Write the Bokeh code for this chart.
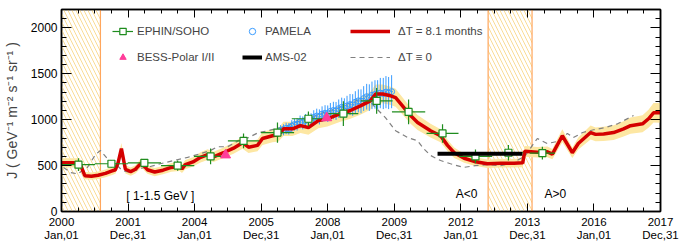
from bokeh.plotting import figure
from bokeh.models import (Range1d, LinearAxis, FixedTicker, BoxAnnotation, Span,
                          Legend, LegendItem, CustomJSTickFormatter)
from bokeh.core.properties import value
from bokeh.embed import file_html
from bokeh.resources import INLINE

FONT = "Liberation Sans"

# ---------------- data ----------------
red_year = [2000.00, 2000.55, 2000.70, 2000.90, 2001.10, 2001.32, 2001.50, 2001.62, 2001.70, 2001.80,
            2001.92, 2002.08, 2002.22, 2002.40, 2002.58, 2002.80, 2003.05, 2003.30, 2003.55, 2003.62,
            2003.72, 2003.95, 2004.18, 2004.39, 2004.57, 2004.87, 2005.17, 2005.44, 2005.62, 2005.89,
            2006.04, 2006.34, 2006.52, 2006.67, 2006.94, 2007.18, 2007.42, 2007.72, 2007.99, 2008.38,
            2008.68, 2008.98, 2009.28, 2009.44, 2009.65, 2009.89, 2010.04, 2010.19, 2010.49, 2010.70,
            2011.09, 2011.39, 2011.60, 2011.80, 2012.10, 2012.40, 2012.80, 2013.20, 2013.60, 2013.86,
            2013.92, 2014.30, 2014.60, 2014.75, 2015.05, 2015.35, 2015.53, 2015.90, 2016.05, 2016.29,
            2016.59, 2016.89, 2017.10, 2017.46, 2017.64, 2017.79, 2018.00]
red_val = [530, 530, 390, 385, 395, 415, 440, 455, 530, 685,
           460, 435, 460, 530, 455, 430, 450, 480, 490, 465,
           510, 540, 590, 620, 595, 640, 690, 750, 700, 720,
           795, 825, 835, 900, 900, 935, 915, 990, 1010, 1065,
           1100, 1150, 1205, 1280, 1280, 1260, 1240, 1175, 1045, 970,
           880, 825, 720, 640, 580, 545, 520, 525, 525, 530,
           655, 645, 650, 625, 825, 640, 740, 860, 840, 845,
           860, 900, 935, 955, 1010, 1075, 1075]
red_err = [50, 50, 40, 40, 40, 42, 44, 45, 50, 60,
           45, 45, 45, 50, 45, 45, 45, 48, 48, 46,
           50, 50, 55, 58, 55, 58, 62, 66, 62, 64,
           70, 72, 72, 78, 78, 80, 78, 84, 85, 88,
           90, 95, 98, 102, 102, 100, 98, 95, 88, 82,
           75, 70, 62, 56, 50, 48, 46, 46, 46, 47,
           58, 57, 58, 56, 72, 58, 66, 76, 76, 78,
           80, 84, 88, 92, 98, 106, 108]

dash_year = [2000.06, 2000.27, 2000.48, 2000.78, 2001.02, 2001.17, 2001.38, 2001.62, 2001.83, 2002.07,
             2002.37, 2002.67, 2002.97, 2003.37, 2003.79, 2004.18, 2004.48, 2004.69, 2004.99, 2005.32,
             2005.62, 2005.92, 2006.22, 2006.58, 2006.88, 2007.18, 2007.48, 2007.78, 2008.08, 2008.38,
             2008.68, 2008.98, 2009.28, 2009.74, 2010.04, 2010.40, 2010.70, 2010.88, 2011.09, 2011.39,
             2011.69, 2012.08, 2012.44, 2012.80, 2013.19, 2013.58, 2013.94, 2014.15, 2014.30, 2014.60,
             2014.99, 2015.20, 2015.38, 2015.66, 2015.99, 2016.35, 2016.71, 2017.19]
dash_val = [480, 425, 410, 480, 620, 665, 575, 520, 445, 425,
            470, 490, 520, 555, 590, 630, 665, 705, 705, 770,
            805, 860, 880, 915, 945, 990, 1020, 1065, 1100, 1140,
            1185, 1220, 1190, 1020, 880, 805, 770, 685, 610, 555,
            520, 480, 500, 510, 500, 530, 610, 720, 795, 740,
            770, 850, 805, 860, 890, 915, 955, 1045]

eph_year = [2000.51, 2001.50, 2002.49, 2003.49, 2004.48, 2005.47, 2006.49, 2007.42,
            2008.47, 2009.47, 2010.43, 2011.45, 2012.44, 2013.43, 2014.45]
eph_val = [510, 520, 530, 500, 600, 770, 860, 1010, 1065, 1205, 1085, 850, 600, 640, 635]
eph_xerr = [0.5, 0.5, 0.5, 0.5, 0.5, 0.47, 0.5, 0.5, 0.45, 0.48, 0.5, 0.48, 0.5, 0.45, 0.38]
eph_yerr = [70, 40, 40, 55, 85, 80, 110, 80, 135, 140, 135, 100, 75, 85, 70]

pam_year = [2006.58, 2006.67, 2006.75, 2006.83, 2006.92, 2007.00, 2007.08, 2007.17, 2007.25, 2007.33,
            2007.42, 2007.50, 2007.58, 2007.67, 2007.75, 2007.83, 2007.92, 2008.00, 2008.08, 2008.17,
            2008.25, 2008.33, 2008.42, 2008.50, 2008.58, 2008.67, 2008.75, 2008.83, 2008.92, 2009.00,
            2009.08, 2009.17, 2009.25, 2009.33, 2009.42, 2009.50, 2009.58, 2009.67, 2009.75, 2009.83,
            2009.92]
pam_val = [880, 890, 905, 900, 930, 945, 950, 975, 965, 990,
           1000, 995, 1025, 1040, 1030, 1060, 1070, 1065, 1090, 1100,
           1095, 1120, 1135, 1125, 1150, 1165, 1160, 1190, 1205, 1200,
           1230, 1250, 1240, 1265, 1275, 1270, 1290, 1285, 1300, 1290,
           1305]
pam_err = [60, 60, 62, 62, 65, 65, 68, 70, 70, 72,
           75, 75, 78, 80, 82, 85, 88, 90, 92, 95,
           98, 100, 105, 108, 110, 115, 118, 120, 125, 130,
           135, 140, 145, 150, 155, 160, 165, 170, 175, 175,
           180]
pam_xerr = 0.04

bess_year = [2004.93, 2007.97]
bess_val = [615, 1020]

ams_year = [2011.30, 2013.85]
ams_val = [630, 630]

band_left = [2000.0, 2012.82]
band_right = [2001.17, 2014.14]

note_x = [2002.97, 2012.17, 2014.84]
note_y = [174, 196, 196]
note_text = ["[ 1-1.5 GeV ]", "A<0", "A>0"]

xtick_vals = [2000, 2002, 2004, 2006, 2008, 2010, 2012, 2014, 2016, 2018]
xtick_labels = ["2000\nJan,01", "2001\nDec,31", "2004\nJan,01", "2005\nDec,31", "2008\nJan,01",
                "2009\nDec,31", "2012\nJan,01", "2013\nDec,31", "2016\nJan,01", "2017\nDec,31"]
xminor = [2000 + 0.5 * i for i in range(37)]
ytick_vals = [0, 500, 1000, 1500, 2000]
yminor = list(range(0, 2201, 100))

# ---------------- figure ----------------
p = figure(width=681, height=250, output_backend="svg", toolbar_location=None,
           x_range=Range1d(2000, 2018), y_range=Range1d(0, 2200),
           min_border_left=61, min_border_right=21, min_border_top=9, min_border_bottom=39)
p.grid.visible = False
p.outline_line_color = "black"
p.outline_line_width = 1.5
p.background_fill_color = "white"
p.border_fill_color = "white"

def style_axis(ax, ticker, major_in, minor_in, show_labels):
    ax.ticker = ticker
    ax.major_tick_in = major_in
    ax.major_tick_out = 0
    ax.minor_tick_in = minor_in
    ax.minor_tick_out = 0
    ax.axis_line_color = "black"
    ax.axis_line_width = 1.5
    ax.major_tick_line_color = "black"
    ax.minor_tick_line_color = "black"
    ax.major_label_text_font = FONT
    ax.major_label_text_color = "black"
    if show_labels:
        ax.major_label_text_font_size = "12px"
        ax.major_label_standoff = 4
    else:
        ax.formatter = CustomJSTickFormatter(code="return ''")
        ax.major_label_text_font_size = "1px"
        ax.major_label_text_color = None
        ax.major_label_standoff = 0

xt = FixedTicker(ticks=xtick_vals, minor_ticks=xminor)
yt = FixedTicker(ticks=ytick_vals, minor_ticks=yminor)

style_axis(p.xaxis[0], xt, 8, 4, True)
p.xaxis[0].major_label_overrides = {v: l for v, l in zip(xtick_vals, xtick_labels)}
p.xaxis[0].major_label_standoff = 4
p.xaxis[0].major_label_text_font_size = "11.5px"
p.xaxis[0].major_label_text_line_height = 1.15
style_axis(p.yaxis[0], yt, 10, 5, True)
p.yaxis[0].axis_label = "J ( GeV\u207b\u00b9 m\u207b\u00b2 s\u207b\u00b9 sr\u207b\u00b9 )"
p.yaxis[0].axis_label_text_font = FONT
p.yaxis[0].axis_label_text_font_style = "normal"
p.yaxis[0].axis_label_text_font_size = "14px"
p.yaxis[0].axis_label_standoff = 8

top = LinearAxis()
style_axis(top, FixedTicker(ticks=xtick_vals, minor_ticks=xminor), 8, 4, False)
p.add_layout(top, "above")
right = LinearAxis()
style_axis(right, FixedTicker(ticks=ytick_vals, minor_ticks=yminor), 10, 5, False)
p.add_layout(right, "right")

# hatched bands
HATCH = "#fadc96"
ORANGE = "#ffa65c"
for l, r in zip(band_left, band_right):
    p.add_layout(BoxAnnotation(left=l, right=r, fill_alpha=0, line_color=None,
                               hatch_pattern="\\", hatch_color=HATCH, hatch_scale=8,
                               hatch_weight=1, level="underlay"))
for l in band_left[1:]:
    p.add_layout(Span(location=l, dimension="height", line_color=ORANGE, line_width=1.2, level="underlay"))
for r in band_right:
    p.add_layout(Span(location=r, dimension="height", line_color=ORANGE, line_width=1.2, level="underlay"))

# uncertainty band
red_lo = [v - e for v, e in zip(red_val, red_err)]
red_hi = [v + e for v, e in zip(red_val, red_err)]
p.varea(x=red_year, y1=red_lo, y2=red_hi, fill_color="#fde7a3", fill_alpha=1.0)

# DeltaT = 0 dashed
r_dash = p.line(dash_year, dash_val, line_color="#808080", line_width=1.2, line_dash="5 4")

# PAMELA
PBLUE = "#3a9cff"
p.segment(x0=pam_year, x1=pam_year,
          y0=[v - e for v, e in zip(pam_val, pam_err)],
          y1=[v + e for v, e in zip(pam_val, pam_err)], line_color=PBLUE, line_width=1)
p.segment(x0=[x - pam_xerr for x in pam_year], x1=[x + pam_xerr for x in pam_year],
          y0=pam_val, y1=pam_val, line_color=PBLUE, line_width=1)
r_pam = p.scatter(pam_year, pam_val, marker="circle", size=6, fill_color=None,
                  line_color=PBLUE, line_width=1)

# model line
r_red = p.line(red_year, red_val, line_color="#d40000", line_width=3.5)

# EPHIN
GREEN = "#1e8c1e"
r_eph_h = p.segment(x0=[x - e for x, e in zip(eph_year, eph_xerr)],
                    x1=[x + e for x, e in zip(eph_year, eph_xerr)],
                    y0=eph_val, y1=eph_val, line_color=GREEN, line_width=1.2)
p.segment(x0=eph_year, x1=eph_year,
          y0=[v - e for v, e in zip(eph_val, eph_yerr)],
          y1=[v + e for v, e in zip(eph_val, eph_yerr)], line_color=GREEN, line_width=1.2)
r_eph = p.scatter(eph_year, eph_val, marker="square", size=7, fill_color="white",
                  line_color=GREEN, line_width=1.2)

# BESS
r_bess = p.scatter(bess_year, bess_val, marker="triangle", size=10, fill_color="#ff3d9a",
                   line_color="#ff3d9a")

# AMS-02
r_ams = p.line(ams_year, ams_val, line_color="black", line_width=4)

# notes
p.text(x=note_x, y=note_y, text=note_text, text_font=value(FONT), text_font_size="12px",
       text_align="center", text_baseline="middle", text_color="black")

# legends
def make_legend(items, loc, gw, standoff):
    lg = Legend(items=items, location=loc, glyph_width=gw, glyph_height=16, label_height=16,
                spacing=10, padding=0, margin=0, label_standoff=standoff,
                background_fill_alpha=0, border_line_color=None,
                label_text_font=FONT, label_text_font_size="11.5px")
    p.add_layout(lg)

make_legend([LegendItem(label="EPHIN/SOHO", renderers=[r_eph_h, r_eph]),
             LegendItem(label="BESS-Polar I/II", renderers=[r_bess])], (51, 146), 21, 4)
make_legend([LegendItem(label="PAMELA", renderers=[r_pam]),
             LegendItem(label="AMS-02", renderers=[r_ams])], (181, 146), 20, 3)
make_legend([LegendItem(label="\u0394T = 8.1 months", renderers=[r_red]),
             LegendItem(label="\u0394T \u2261 0", renderers=[r_dash])], (289, 146), 40, 8)

open("out.html", "w").write(file_html(p, INLINE))
